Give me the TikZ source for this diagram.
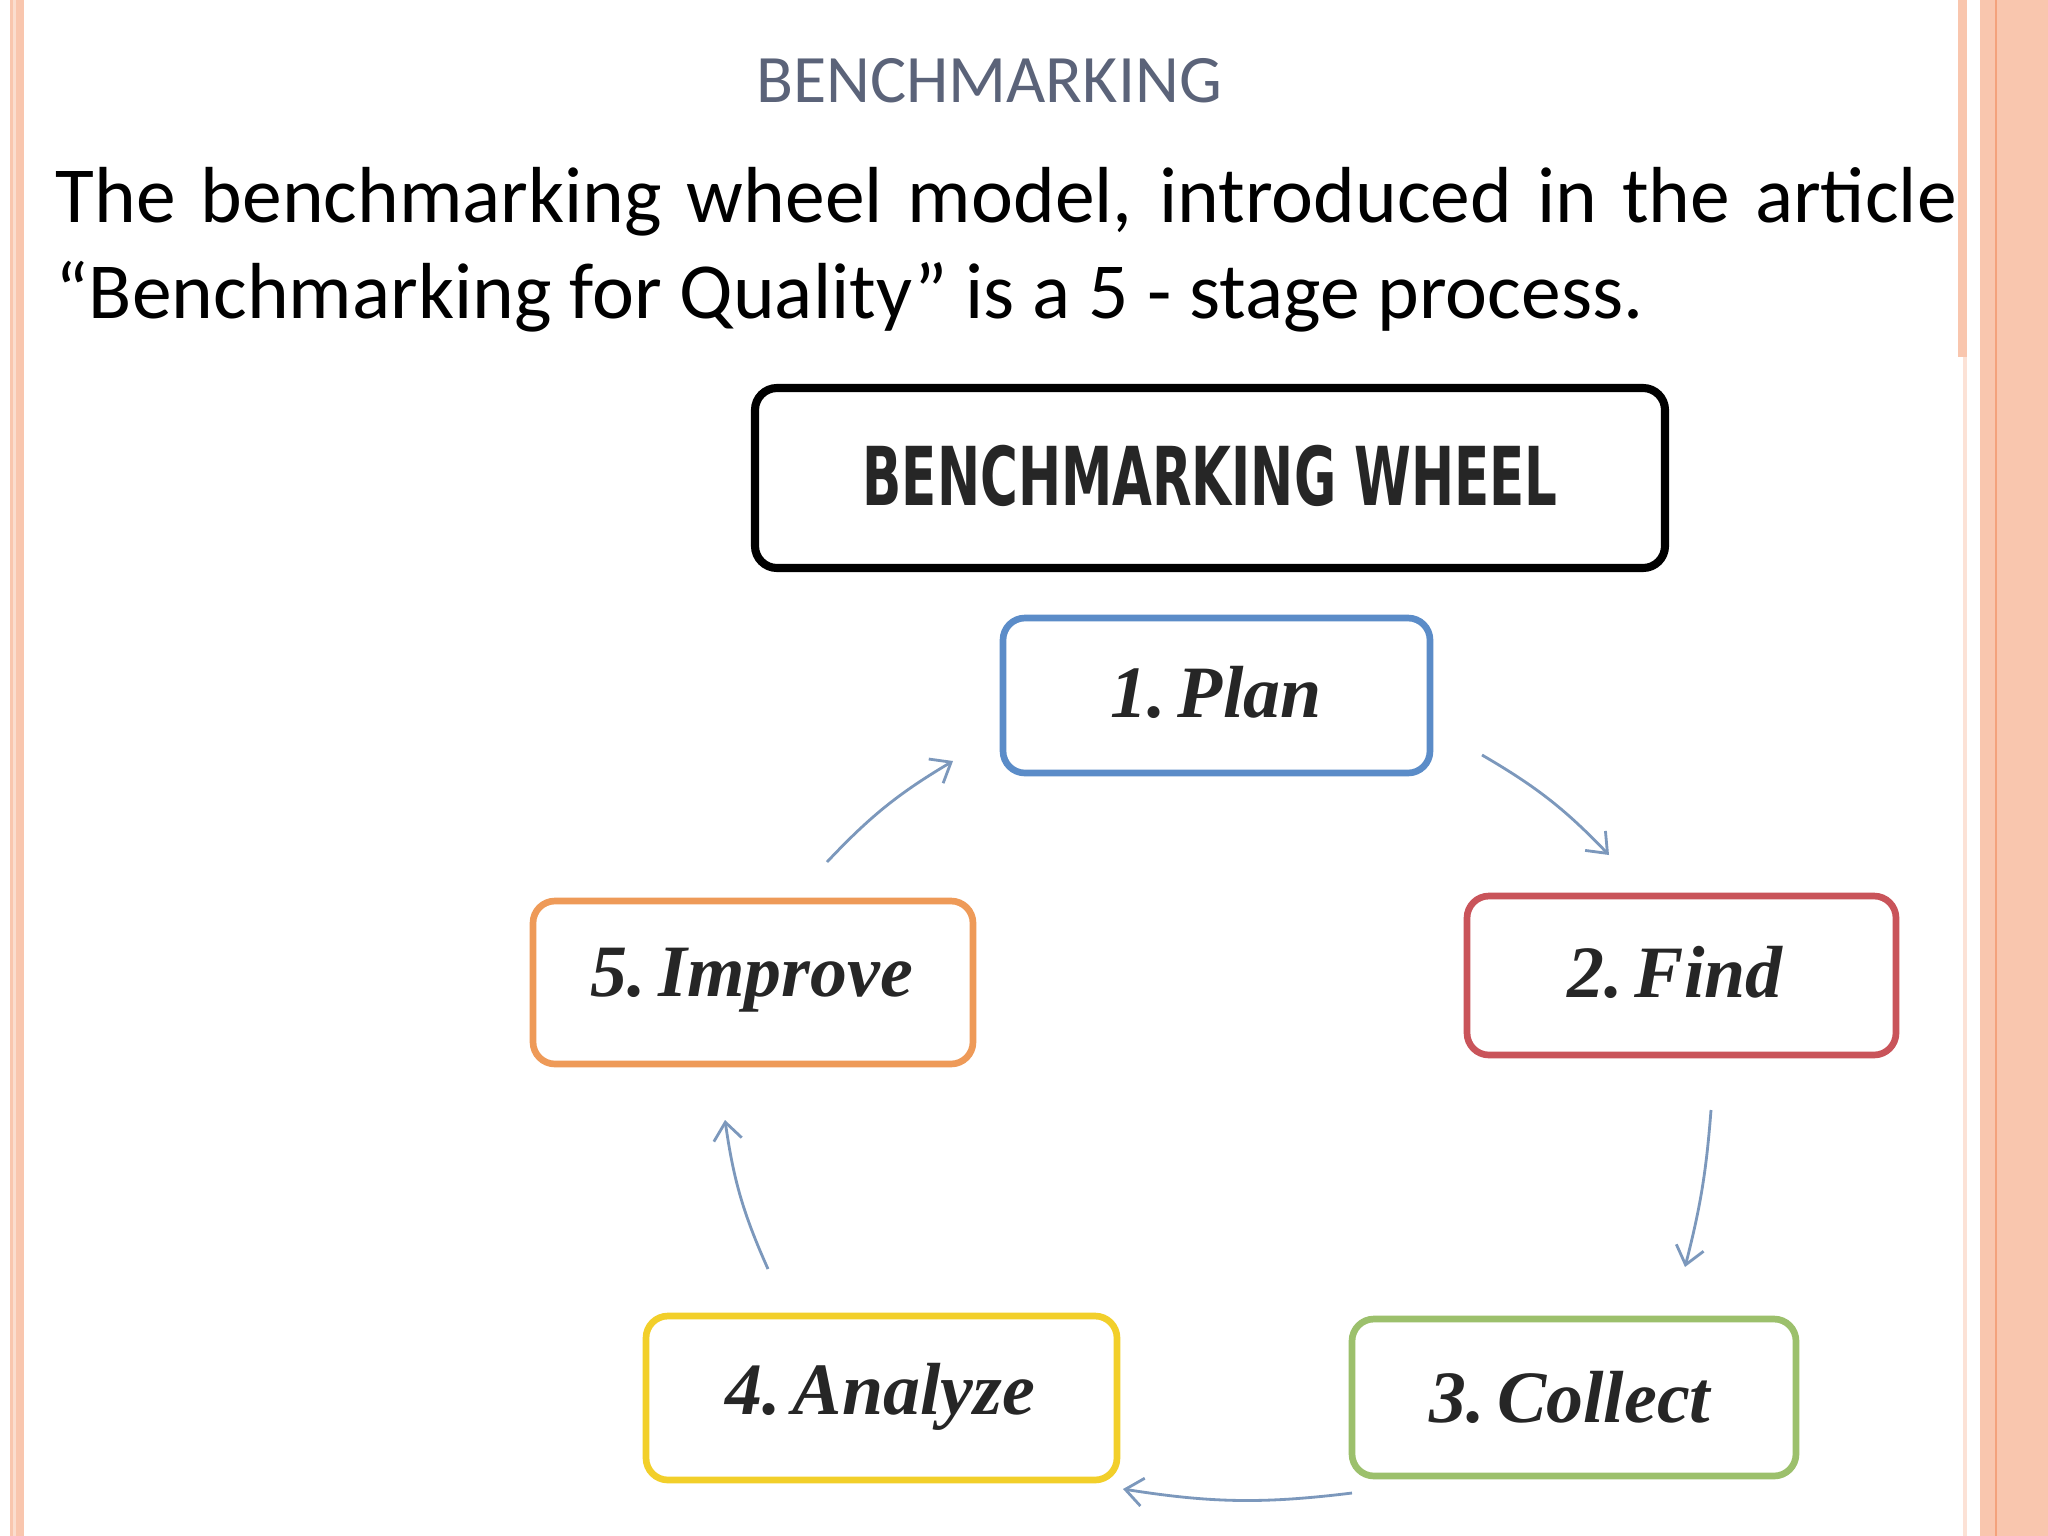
\documentclass[tikz,border=0pt]{standalone}
\usepackage{fontspec}
\setmainfont{Carlito}
\newfontfamily\hdfont{DejaVu Sans Condensed}
\newfontfamily\stepfont{Liberation Serif}
\begin{document}
\begin{tikzpicture}[x=0.01cm,y=-0.01cm,
  stagebox/.style={draw,line width=1.9pt,rounded corners=0.22cm,fill=white},
  stagetext/.style={font=\stepfont\bfseries\itshape\fontsize{21}{24}\selectfont,text=black!85},
  flow/.style={draw=arrowc,line width=0.8pt,-{Straight Barb[length=5pt,width=8pt]}}]
\definecolor{salmon}{HTML}{F9C6AE}
\definecolor{salmondk}{HTML}{F4A27C}
\definecolor{titlec}{HTML}{5B6379}
\definecolor{arrowc}{HTML}{7C98BC}
\definecolor{cblue}{HTML}{5B8CC8}
\definecolor{cred}{HTML}{C9545A}
\definecolor{cgreen}{HTML}{9CC06C}
\definecolor{cyellow}{HTML}{F2CF2A}
\definecolor{corange}{HTML}{EE9A58}
\usetikzlibrary{arrows.meta}
\useasboundingbox (0,0) rectangle (2048,1536);
\fill[white] (0,0) rectangle (2048,1536);
% borders
\fill[salmon] (10,0) rectangle (24,1536);
\fill[salmon!60] (13,0) rectangle (16,1536);
\fill[salmon] (1958,0) rectangle (1967,357);
\fill[salmon!50] (1963,357) rectangle (1967,1536);
\fill[salmon] (1980,0) rectangle (2048,1536);
\draw[salmondk,line width=0.8pt] (1996,0) -- (1996,1536);
% title
\node[text=titlec,font=\fontsize{19.3}{22}\selectfont] (title) at (989,81) {BENCHMARKING};
\node[anchor=base west,inner sep=0,font=\fontsize{22.6}{27}\selectfont] (l1) at (55,222)
  {\makebox[19cm][s]{The benchmarking wheel model, introduced in the article}};
\node[anchor=base west,inner sep=0,font=\fontsize{22.6}{27}\selectfont] (l2) at (55,318)
  {“Benchmarking for Quality” is a 5 - stage process.};
% header
\draw[line width=2.3pt,rounded corners=0.22cm] (755,388) rectangle (1665,568);
\node[font=\hdfont\bfseries\fontsize{22}{24}\selectfont,text=black!85] (hdr) at (1210,476)
  {\scalebox{0.74}[1.05]{BENCHMARKING WHEEL}};
% stages
\draw[stagebox,draw=cblue] (1003,618) rectangle (1430,773);
\node[stagetext] (s1) at (1216,692) {1.\,Plan};
\draw[stagebox,draw=cred] (1467,896) rectangle (1896,1055);
\node[stagetext] (s2) at (1675,972) {2.\,Find};
\draw[stagebox,draw=cgreen] (1352,1319) rectangle (1796,1476);
\node[stagetext] (s3) at (1570,1397) {3.\,Collect};
\draw[stagebox,draw=cyellow] (646,1316) rectangle (1117,1480);
\node[stagetext] (s4) at (880,1397) {4.\,Analyze};
\draw[stagebox,draw=corange] (533,901) rectangle (973,1064);
\node[stagetext] (s5) at (752,980) {5.\,Improve};
% arrows
\coordinate (a1) at (1482,755); \coordinate (b1) at (1609,855);
\coordinate (a2) at (1711,1110); \coordinate (b2) at (1685,1267);
\coordinate (a3) at (1352,1493); \coordinate (b3) at (1123,1489);
\coordinate (a4) at (768,1269); \coordinate (b4) at (725,1120);
\coordinate (a5) at (827,862); \coordinate (b5) at (953,761);
\draw[flow] (a1) to[bend left=8] (b1);
\draw[flow] (a2) to[bend left=5] (b2);
\draw[flow] (a3) to[bend left=8] (b3);
\draw[flow] (a4) to[bend left=8] (b4);
\draw[flow] (a5) to[bend left=8] (b5);
\end{tikzpicture}
\end{document}
